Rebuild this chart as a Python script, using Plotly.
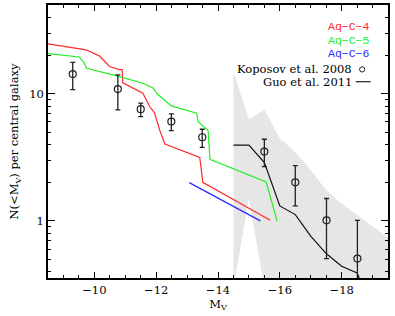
import math
import plotly.graph_objects as go

# Aq-C-4 (red)
aq4_x = [-8.3, -9.73, -10.16, -10.49, -10.81, -10.9, -10.92, -11.25, -11.57, -11.79, -11.95, -12.11, -12.28, -13.41, -13.51, -15.69]
aq4_y = [25.2, 22.2, 19.9, 16.4, 15.5, 15.5, 12.2, 11.1, 10.1, 7.94, 7.05, 5.2, 4.03, 3.15, 2.01, 1.01]
# Aq-C-5 (green)
aq5_x = [-8.3, -9.51, -9.67, -9.75, -10.60, -11.57, -11.90, -12.01, -12.49, -13.31, -13.36, -13.68, -13.74, -15.56, -15.91]
aq5_y = [21.0, 19.5, 17.5, 15.9, 14.1, 12.1, 11.1, 10.1, 8.04, 7.04, 6.04, 5.13, 3.05, 2.02, 1.0]
# Aq-C-6 (blue)
aq6_x = [-13.07, -15.37]
aq6_y = [2.0, 1.0]
# Guo et al. 2011
guo_x = [-14.5, -15.0, -15.5, -16.0, -16.5, -17.0, -17.5, -18.0, -18.5, -19.0]
guo_y = [3.95, 3.95, 2.88, 1.31, 1.12, 0.757, 0.553, 0.439, 0.389, 0.2]
# Koposov et al. 2008
kop_x = [-9.3, -10.76, -11.5, -12.49, -13.49, -15.5, -16.5, -17.51, -18.51]
kop_y = [14.3, 10.9, 7.57, 6.04, 4.55, 3.51, 2.01, 1.01, 0.505]
kop_hi = [17.7, 14.1, 8.45, 6.95, 5.26, 4.39, 2.72, 1.5, 1.01]
kop_lo = [10.8, 7.48, 6.62, 5.13, 3.79, 2.67, 1.31, 0.505, 0.3]
# shaded band
band_x = [-14.5, -15.0, -15.5, -16.0, -16.5, -17.0, -17.5, -18.0, -19.6]
band_hi = [14.9, 6.3, 7.5, 4.47, 3.49, 2.51, 1.75, 1.37, 0.71]
band_lo = [0.3, 1.5, 0.3, 0.3, 0.3, 0.3, 0.3, 0.3, 0.3]

FONT = "'DejaVu Serif', 'Liberation Serif', serif"
MONO = "'Liberation Mono', 'DejaVu Sans Mono', monospace"
fig = go.Figure()

fig.add_trace(go.Scatter(
    x=band_x + band_x[::-1], y=band_hi + band_lo[::-1],
    fill="toself", fillcolor="#e6e6e6", mode="lines", line=dict(width=0),
    hoverinfo="skip", showlegend=False))

for xs, ys, c in [(aq4_x, aq4_y, "#ff2a2a"), (aq5_x, aq5_y, "#22ee22"), (aq6_x, aq6_y, "#2a2aff")]:
    fig.add_trace(go.Scatter(x=xs, y=ys, mode="lines", line=dict(color=c, width=1.2), showlegend=False))

fig.add_trace(go.Scatter(x=guo_x, y=guo_y, mode="lines", line=dict(color="#111111", width=1.2), showlegend=False))

fig.add_trace(go.Scatter(
    x=kop_x, y=kop_y, mode="markers",
    marker=dict(symbol="circle-open", size=7, color="#222222", line=dict(width=1.2)),
    error_y=dict(type="data", symmetric=False,
                 array=[h - y for h, y in zip(kop_hi, kop_y)],
                 arrayminus=[y - l for y, l in zip(kop_y, kop_lo)],
                 color="#222222", thickness=1.3, width=2.5),
    showlegend=False))

axis_common = dict(showline=True, linecolor="black", linewidth=1.5, mirror="ticks",
                   ticks="inside", tickcolor="black", tickwidth=1.2, showgrid=False, zeroline=False,
                   automargin=False,
                   tickfont=dict(family=FONT, size=11.5, color="black"))

fig.update_xaxes(range=[-8.5, -19.5], autorange=False, tick0=0, dtick=2, ticklen=6,
                 minor=dict(dtick=0.5, tick0=0, ticklen=3.5, ticks="inside", tickcolor="black", tickwidth=1.2),
                 title=dict(text="M<sub>V</sub>", font=dict(family=FONT, size=11.5, color="black"), standoff=1),
                 **axis_common)
fig.update_yaxes(type="log", range=[math.log10(0.355), math.log10(50)], autorange=False,
                 tickvals=[1, 10], ticktext=["1", "10"], ticklen=7,
                 minor=dict(tickvals=[0.4, 0.5, 0.6, 0.7, 0.8, 0.9, 2, 3, 4, 5, 6, 7, 8, 9, 20, 30, 40],
                            ticklen=3.5, ticks="inside", tickcolor="black", tickwidth=1.2),
                 title=dict(text="N(<M<sub>V</sub>) per central galaxy", font=dict(family=FONT, size=11.5, color="black"), standoff=8),
                 **axis_common)

# legend text
leg = [("Aq−C−4", "#ff2a2a", 0.949, 0.920, MONO, 11.5),
       ("Aq−C−5", "#22ee22", 0.949, 0.870, MONO, 11.5),
       ("Aq−C−6", "#2a2aff", 0.949, 0.823, MONO, 11.5),
       ("Koposov et al. 2008", "black", 0.898, 0.764, FONT, 11.5),
       ("Guo et al. 2011", "black", 0.898, 0.719, FONT, 11.5)]
for t, c, x, y, f, s in leg:
    fig.add_annotation(text=t, x=x, y=y, xref="paper", yref="paper", xanchor="right", yanchor="middle",
                       showarrow=False, font=dict(family=f, size=s, color=c), borderpad=0)
# legend symbols
fig.add_shape(type="circle", xref="paper", yref="paper", x0=0.924 - 2.6/340, x1=0.924 + 2.6/340,
              y0=0.764 - 2.6/273, y1=0.764 + 2.6/273, line=dict(color="#222222", width=1))
fig.add_shape(type="line", xref="paper", yref="paper", x0=0.905, x1=0.949, y0=0.719, y1=0.719,
              line=dict(color="#222222", width=1.2))

fig.update_layout(width=395, height=316, margin=dict(l=48, r=7, t=5, b=38),
                  paper_bgcolor="white", plot_bgcolor="white",
                  font=dict(family=FONT, size=11.5, color="black"))
fig.write_html("out.html", config={"displayModeBar": False},
               post_script="document.body.style.margin='0';document.body.style.padding='0';")
